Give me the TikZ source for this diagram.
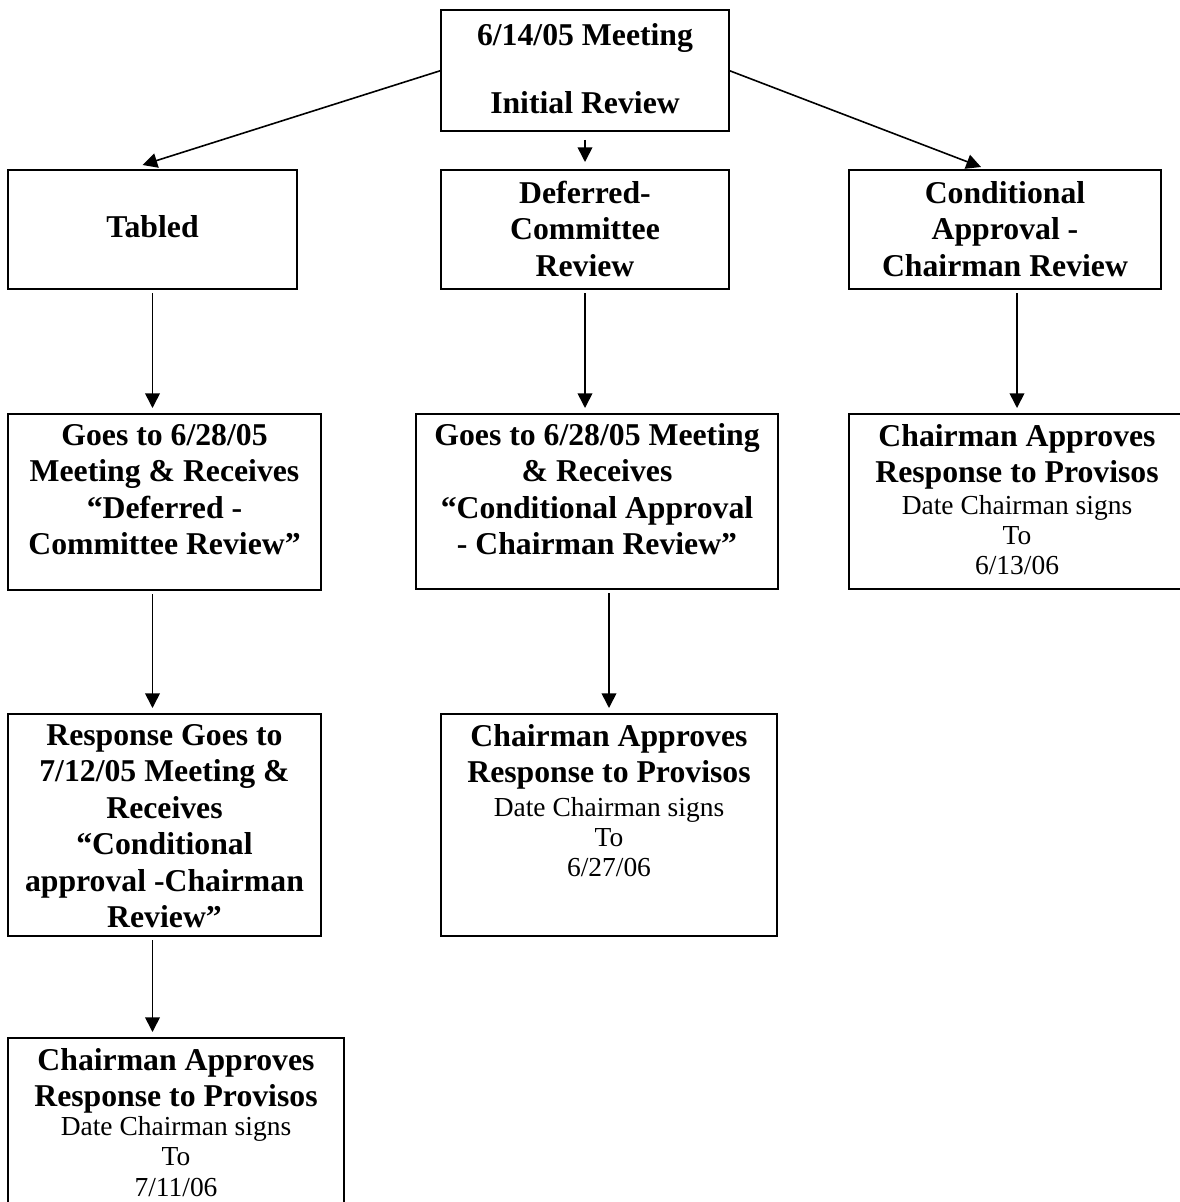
\documentclass[tikz,border=0pt]{standalone}
\usepackage{fontspec}
\setmainfont{Liberation Serif}
\usetikzlibrary{arrows.meta,calc}
\newcommand{\fbld}{\fontsize{23.8pt}{27.4pt}\selectfont\bfseries}
\newcommand{\freg}{\fontsize{20.6pt}{22.6pt}\selectfont}
\newcommand{\bst}{\rule{0pt}{21pt}}
\newcommand{\rst}{\rule{0pt}{14.5pt}}
\newcommand{\mkbox}[5]{\node[pbox, minimum width={(#4-#2)*0.75pt}, minimum height={(#5-#3)*0.75pt}] (#1) at ({(#2+#4)/2},{(#3+#5)/2}) {};}
\begin{document}
\begin{tikzpicture}[x=0.75pt, y=-0.75pt,
  pbox/.style={draw, line width=1.5pt, inner sep=0pt, outer sep=0pt},
  btext/.style={anchor=north, inner sep=0pt, outer sep=0pt, align=center, font=\fbld},
  rtext/.style={anchor=north, inner sep=0pt, outer sep=0pt, align=center, font=\freg},
  arr/.style={line width=1.2pt, -{Triangle[length=11pt,width=11pt]}, shorten <=3pt, shorten >=4.5pt}]
\useasboundingbox (0,0) rectangle (1180,1202);
\clip (0,0) rectangle (1180,1202);
\fill[white] (0,0) rectangle (1180,1202);

% boxes
\mkbox{top}{441}{10}{729}{131}
\mkbox{tabled}{8}{170}{297}{289}
\mkbox{defer}{441}{170}{729}{289}
\mkbox{cond}{849}{170}{1161}{289}
\mkbox{goesA}{8}{414}{321}{590}
\mkbox{goesB}{416}{414}{778}{589}
\mkbox{apprC}{849}{414}{1185}{589}
\mkbox{resp}{8}{714}{321}{936}
\mkbox{apprB}{441}{714}{777}{936}
\mkbox{apprA}{8}{1038}{344}{1225}

% texts
\node[btext] (topT) at ($(top.north)+(0,8)$) {\bst 6/14/05 Meeting\\[22.9pt]Initial Review};
\node[btext] (tabledT) at ($(tabled.north)+(0,39)$) {\bst Tabled};
\node[btext] (deferT) at ($(defer.north)+(0,5)$) {\bst Deferred-\\Committee\\Review};
\node[btext] (condT) at ($(cond.north)+(0,5)$) {\bst Conditional\\Approval -\\Chairman Review};
\node[btext] (goesAT) at ($(goesA.north)+(0,3)$) {\bst Goes to 6/28/05\\Meeting \& Receives\\“Deferred -\\Committee Review”};
\node[btext] (goesBT) at ($(goesB.north)+(0,3)$) {\bst Goes to 6/28/05 Meeting\\\& Receives\\“Conditional Approval\\- Chairman Review”};
\node[btext] (apprCT) at ($(apprC.north)+(0,4)$) {\bst Chairman Approves\\Response to Provisos};
\node[rtext] (apprCR) at ($(apprC.north)+(0,81)$) {\rst Date Chairman signs\\To\\6/13/06};
\node[btext] (respT) at ($(resp.north)+(0,3)$) {\bst Response Goes to\\7/12/05 Meeting \&\\Receives\\“Conditional\\approval -Chairman\\Review”};
\node[btext] (apprBT) at ($(apprB.north)+(0,4)$) {\bst Chairman Approves\\Response to Provisos};
\node[rtext] (apprBR) at ($(apprB.north)+(0,82.7)$) {\rst Date Chairman signs\\To\\6/27/06};
\node[btext] (apprAT) at ($(apprA.north)+(0,4)$) {\bst Chairman Approves\\Response to Provisos};
\node[rtext] (apprAR) at ($(apprA.north)+(0,78.5)$) {\rst Date Chairman signs\\To\\7/11/06};

% connectors
\draw[arr, shorten <=0pt, shorten >=0pt] (top.west) -- ($(tabled.north)+(-10,-5)$);
\draw[arr, shorten <=0pt, shorten >=0pt] (top.east) -- ($(cond.north)+(-24,-3)$);
\draw[arr, shorten <=6.75pt, shorten >=6pt] (top.south) -- (defer.north);
\draw[arr] (tabled.south) -- (tabled.south |- goesA.north);
\draw[arr] (defer.south) -- (defer.south |- goesB.north);
\draw[arr] (cond.south -| apprC.north) -- (apprC.north);
\draw[arr] (goesA.south -| tabled.south) -- (tabled.south |- resp.north);
\draw[arr] (goesB.south -| apprB.north) -- (apprB.north);
\draw[arr] (resp.south -| tabled.south) -- (tabled.south |- apprA.north);
\end{tikzpicture}
\end{document}
